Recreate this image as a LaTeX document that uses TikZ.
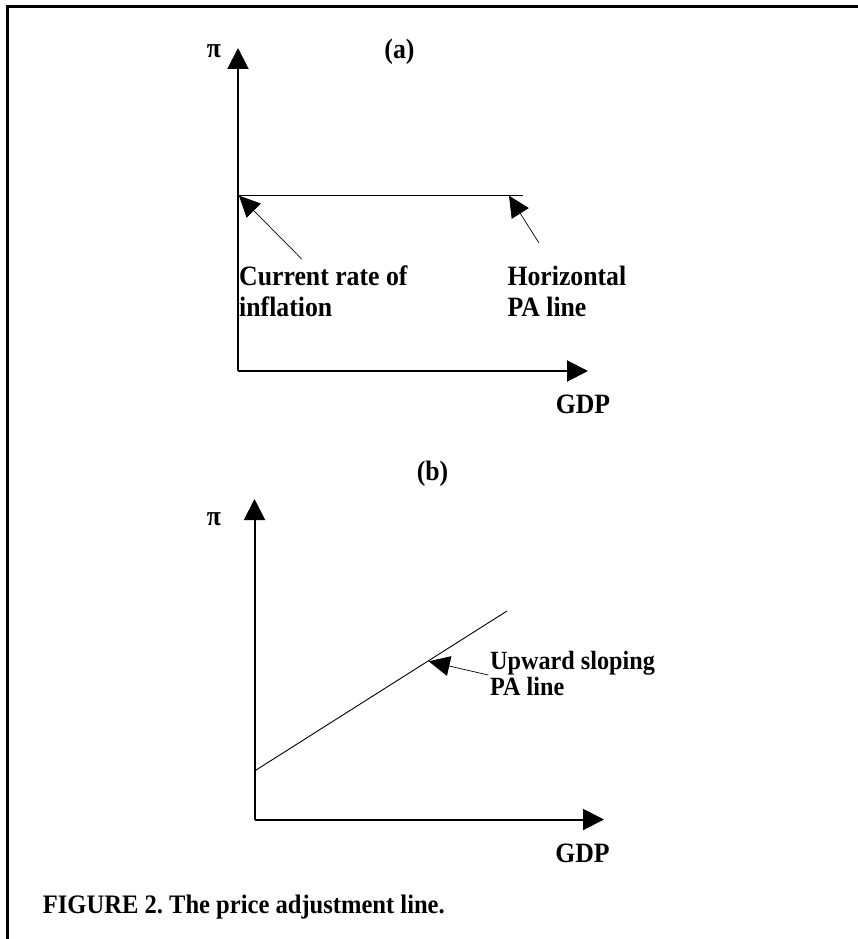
\documentclass[tikz,border=0pt]{standalone}
\usepackage{fontspec}
\setmainfont{Liberation Serif}[FakeStretch=0.92]
\usetikzlibrary{arrows.meta}
\begin{document}
\frenchspacing
\begin{tikzpicture}[x=1pt,y=-1pt,
  axisline/.style={line width=2pt, -{Triangle[length=21pt,width=21pt]}},
  paline/.style={line width=0.9pt},
  pointer/.style={line width=0.7pt, -{Triangle[length=21pt,width=20pt]}},
  lbl/.style={inner sep=0pt, font=\bfseries\fontsize{28}{30}\selectfont},
  lblb/.style={inner sep=0pt, font=\bfseries\fontsize{26.3}{28}\selectfont},
  captext/.style={inner sep=0pt, font=\bfseries\fontsize{26.7}{28}\selectfont}]
\useasboundingbox (0,0) rectangle (857,939);
% frame
\draw[line width=3pt] (7.5,945) -- (7.5,6.5) -- (862,6.5);

% ---------- panel (a) ----------
\coordinate (oa) at (238,371);
\coordinate (ya) at (238,48);
\coordinate (xa) at (588,371);
\draw[axisline] (oa) -- (ya);
\draw[axisline] (oa) -- (xa);
\coordinate (ha1) at (238,195.5);
\coordinate (ha2) at (523,195.5);
\draw[paline] (ha1) -- (ha2);
\node[lbl, anchor=base] (pia) at (214,58) {π};
\node[lbl, anchor=base] (ta) at (399.5,59) {(a)};
\node[lbl, anchor=base] (gdpa) at (583,413) {GDP};
\node[lbl, anchor=base west] (cur1) at (239,285) {Current rate of};
\node[lbl, anchor=base west] (cur2) at (239,316.5) {inflation};
\node[lbl, anchor=base west] (hor1) at (507.3,285) {Horizontal};
\node[lbl, anchor=base west] (hor2) at (507.3,316.5) {PA line};
\coordinate (t1) at (301.7,259);
\coordinate (p1) at (239,195.7);
\coordinate (t2) at (539,243);
\coordinate (p2) at (509,195.7);
\draw[pointer] (t1) -- (p1);
\draw[pointer] (t2) -- (p2);

% ---------- panel (b) ----------
\coordinate (ob) at (254.5,819.5);
\coordinate (yb) at (254.5,499);
\coordinate (xb) at (604,819.5);
\draw[axisline] (ob) -- (yb);
\draw[axisline] (ob) -- (xb);
\coordinate (s1) at (254.5,771);
\coordinate (s2) at (507,611);
\draw[paline] (s1) -- (s2);
\node[lbl, anchor=base] (pib) at (214,525) {π};
\node[lbl, anchor=base] (tb) at (432.5,480) {(b)};
\node[lbl, anchor=base] (gdpb) at (582.5,862) {GDP};
\node[lblb, anchor=base west] (up1) at (490,669.3) {Upward sloping};
\node[lblb, anchor=base west] (up2) at (490,695) {PA line};
\coordinate (t3) at (488.3,675);
\coordinate (p3) at (428.7,661.3);
\draw[pointer] (t3) -- (p3);

% caption
\node[captext, anchor=base west] (caption) at (42.7,913) {FIGURE 2. The price adjustment line.};
\end{tikzpicture}
\end{document}
